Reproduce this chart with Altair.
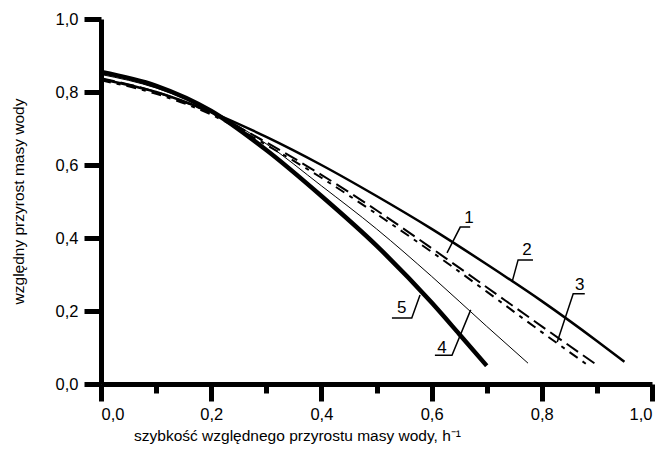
import altair as alt
import pandas as pd

# ---- data ----
curve1_x = [0.0, 0.1, 0.2, 0.3, 0.4, 0.5, 0.6, 0.7, 0.8, 0.9]
curve1_y = [0.838, 0.800, 0.742, 0.662, 0.573, 0.476, 0.372, 0.265, 0.158, 0.052]

curve2_x = [0.0, 0.1, 0.2, 0.3, 0.4, 0.5, 0.6, 0.7, 0.8, 0.9, 0.95]
curve2_y = [0.835, 0.800, 0.745, 0.677, 0.600, 0.515, 0.425, 0.328, 0.227, 0.118, 0.061]

curve3_x = [0.0, 0.1, 0.2, 0.3, 0.4, 0.5, 0.6, 0.7, 0.8, 0.885]
curve3_y = [0.832, 0.795, 0.738, 0.655, 0.565, 0.466, 0.362, 0.253, 0.142, 0.050]

curve4_x = [0.0, 0.1, 0.2, 0.3, 0.4, 0.5, 0.6, 0.7, 0.775]
curve4_y = [0.848, 0.811, 0.748, 0.658, 0.543, 0.425, 0.295, 0.158, 0.057]

curve5_x = [0.0, 0.1, 0.2, 0.3, 0.4, 0.5, 0.6, 0.65, 0.7]
curve5_y = [0.855, 0.817, 0.748, 0.641, 0.515, 0.379, 0.223, 0.137, 0.050]

label_names = ["1", "2", "3", "4", "5"]
label_x = [0.668, 0.773, 0.869, 0.619, 0.546]
label_y = [0.455, 0.367, 0.271, 0.099, 0.208]
# leader polylines: underline end, corner, point on curve
leader_x = [[0.670, 0.652, 0.628], [0.784, 0.757, 0.746], [0.878, 0.857, 0.828],
            [0.606, 0.637, 0.671], [0.528, 0.564, 0.579]]
leader_y = [[0.430, 0.430, 0.359], [0.340, 0.340, 0.279], [0.247, 0.247, 0.115],
            [0.079, 0.079, 0.203], [0.181, 0.181, 0.244]]

tick_values = [0.0, 0.1, 0.2, 0.3, 0.4, 0.5, 0.6, 0.7, 0.8, 0.9, 1.0]

x_title = "szybkość względnego przyrostu masy wody, h\u207b\u00b9"
y_title = "względny przyrost masy wody"

FONT = "Liberation Sans"

curves = [
    ("1", curve1_x, curve1_y, 2.0, [14, 6]),
    ("2", curve2_x, curve2_y, 2.5, None),
    ("3", curve3_x, curve3_y, 2.0, [10, 6, 4, 6]),
    ("4", curve4_x, curve4_y, 1.0, None),
    ("5", curve5_x, curve5_y, 4.5, None),
]

xscale = alt.Scale(domain=[0, 1], nice=False, zero=False)
yscale = alt.Scale(domain=[0, 1], nice=False, zero=False)

minor_test = "round(datum.value * 10) % 2 == 1"
label_expr = f"{minor_test} ? '' : replace(format(datum.value, '.1f'), '.', ',')"

common = dict(values=tick_values, labelExpr=label_expr, labelOverlap=False,
              tickSize={"condition": {"test": minor_test, "value": 9}, "value": 17},
              domainColor="black", tickColor="black", domainWidth=5, tickWidth=5,
              grid=False, labelFont=FONT, labelFontSize=16.5,
              labelColor="black", titleFont=FONT, titleFontSize=15.5,
              titleFontWeight="normal", titleColor="black")

x_axis = alt.Axis(title=x_title, titleX=196, titleY=56, labelPadding=5,
                  titleAlign="center", titleBaseline="alphabetic", **common)
y_axis = alt.Axis(title=y_title, titleX=-78, titleY=182, labelPadding=6,
                  titleAlign="center", titleBaseline="alphabetic", titleAngle=-90, **common)

layers = []
for i, (name, xs, ys, w, dash) in enumerate(curves):
    df = pd.DataFrame({"x": xs, "y": ys, "curve": name})
    kw = dict(color="black", strokeWidth=w, interpolate="monotone")
    if dash:
        kw["strokeDash"] = dash
    if i == 0:
        enc = dict(x=alt.X("x:Q", scale=xscale, axis=x_axis),
                   y=alt.Y("y:Q", scale=yscale, axis=y_axis))
    else:
        enc = dict(x=alt.X("x:Q", scale=xscale), y=alt.Y("y:Q", scale=yscale))
    layers.append(alt.Chart(df).mark_line(**kw).encode(**enc))

rows = []
for name, lx, ly in zip(label_names, leader_x, leader_y):
    for k, (a, b) in enumerate(zip(lx, ly)):
        rows.append({"label": name, "x": a, "y": b, "k": k})
leader_df = pd.DataFrame(rows)
layers.append(
    alt.Chart(leader_df).mark_line(color="black", strokeWidth=1.5).encode(
        x=alt.X("x:Q", scale=xscale), y=alt.Y("y:Q", scale=yscale),
        detail="label:N", order="k:Q",
    )
)

text_df = pd.DataFrame({"label": label_names, "x": label_x, "y": label_y})
layers.append(
    alt.Chart(text_df).mark_text(font=FONT, fontSize=17, color="black",
                                 align="center", baseline="middle").encode(
        x=alt.X("x:Q", scale=xscale), y=alt.Y("y:Q", scale=yscale), text="label:N",
    )
)

chart = alt.layer(*layers).properties(
    width=551, height=365,
    autosize=alt.AutoSizeParams(type="none"),
    padding={"left": 101, "top": 19, "right": 13, "bottom": 71},
    background="white",
).configure_view(stroke=None)

chart.save("out.html", embed_options={"renderer": "svg", "actions": False})
